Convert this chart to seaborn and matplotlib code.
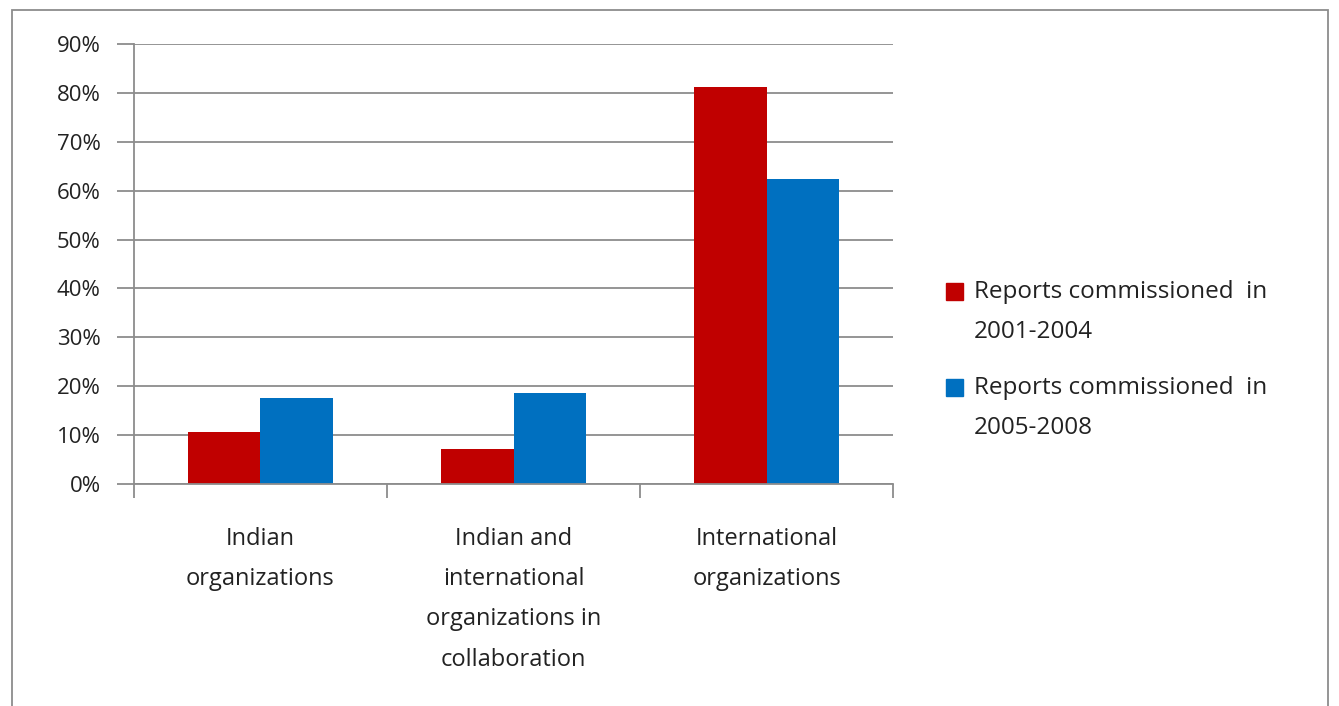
import pandas as pd
import matplotlib.pyplot as plt
import matplotlib.patches as mpatches
from matplotlib.legend_handler import HandlerPatch
import seaborn as sns
from matplotlib.ticker import PercentFormatter, FixedLocator

# Data
categories = ["Indian\norganizations",
              "Indian and\ninternational\norganizations in\ncollaboration",
              "International\norganizations"]
series_names = ["Reports commissioned  in\n2001-2004",
                "Reports commissioned  in\n2005-2008"]
values_2001_2004 = [10.6, 7.1, 81.3]
values_2005_2008 = [17.6, 18.6, 62.3]
yticks = [0, 10, 20, 30, 40, 50, 60, 70, 80, 90]
colors = ["#C00000", "#0070C0"]

df = pd.DataFrame({
    "category": categories * 2,
    "series": [series_names[0]] * 3 + [series_names[1]] * 3,
    "value": values_2001_2004 + values_2005_2008,
})

sns.set_style("white")
plt.rcParams['font.family'] = ['Open Sans', 'DejaVu Sans']

fig = plt.figure(figsize=(13.39, 7.06), dpi=100)
ax = fig.add_axes([0.100, 0.3144, 0.567, 0.6233])

sns.barplot(data=df, x="category", y="value", hue="series", palette=colors,
            width=0.575, saturation=1, ax=ax, errorbar=None, legend=False,
            edgecolor="none", linewidth=0)

ax.set_ylim(0, 90)
ax.set_xlim(-0.5, 2.5)
ax.yaxis.set_major_locator(FixedLocator(yticks))
ax.yaxis.set_major_formatter(PercentFormatter(decimals=0))
ax.grid(axis="y", color="#8c8c8c", linewidth=1.3)
ax.set_axisbelow(True)
ax.set_xlabel("")
ax.set_ylabel("")

for s in ["top", "right"]:
    ax.spines[s].set_visible(False)
for s in ["left", "bottom"]:
    ax.spines[s].set_color("#8c8c8c")
    ax.spines[s].set_linewidth(1.3)

ax.tick_params(axis="y", length=12, width=1.3, color="#8c8c8c", labelsize=16,
               labelcolor="#222222", pad=12, left=True)
# x ticks at the category boundaries, labels centered on categories
ax.set_xticks([-0.5, 0.5, 1.5, 2.5])
ax.set_xticklabels([])
ax.set_xticks([0, 1, 2], minor=True)
ax.set_xticklabels(categories, minor=True, fontsize=17, linespacing=1.9,
                   color="#222222", va="top")
ax.tick_params(axis="x", which="major", length=10, width=1.3, color="#8c8c8c",
               bottom=True)
ax.tick_params(axis="x", which="minor", length=0, pad=31)


# legend marker sits next to the first line of each two-line label
def top_square(legend, orig_handle, xdescent, ydescent, width, height, fontsize):
    return mpatches.Rectangle((-xdescent, -ydescent + 0.86 * fontsize), width, height)


handles = [mpatches.Patch(color=c, label=n) for c, n in zip(colors, series_names)]
leg = fig.legend(handles=handles, loc="center left", bbox_to_anchor=(0.690, 0.49),
                 frameon=False, fontsize=17.5, handlelength=0.7, handleheight=0.7,
                 handletextpad=0.45, labelspacing=1.35,
                 handler_map={mpatches.Patch: HandlerPatch(patch_func=top_square)})
for t in leg.get_texts():
    t.set_linespacing(1.85)
    t.set_color("#222222")

# outer chart border
fig.patches.append(mpatches.Rectangle((0.009, -0.01), 0.983, 0.996,
                                      transform=fig.transFigure, fill=False,
                                      edgecolor="#8c8c8c", linewidth=1.3))

fig.savefig("out.png", dpi=100)
